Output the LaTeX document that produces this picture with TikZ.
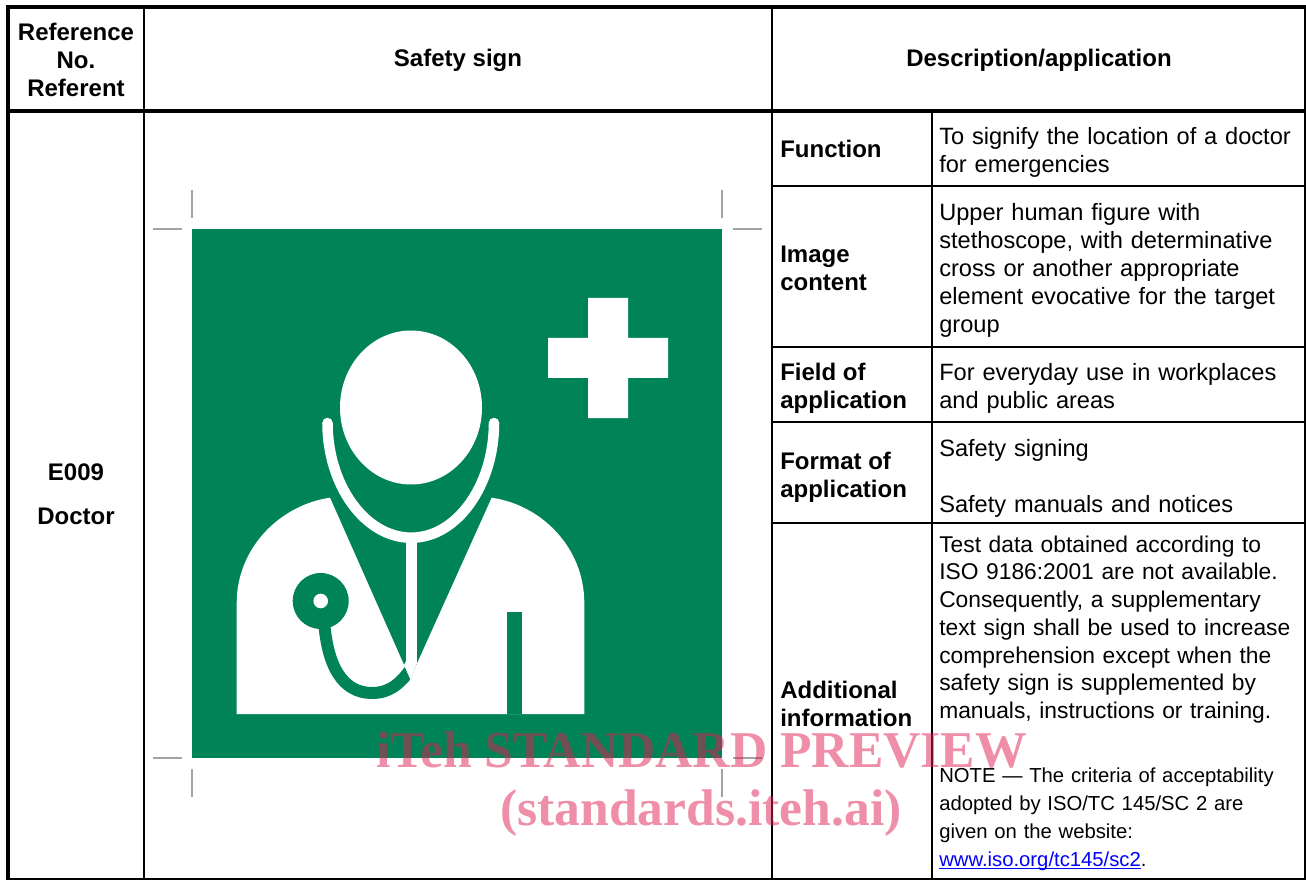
\documentclass[tikz,border=0pt]{standalone}
\usepackage{fontspec}
\setmainfont{Liberation Sans}
\newfontfamily\wmfont{Liberation Serif}
\usepackage{xcolor}
\definecolor{isogreen}{HTML}{008457}
\definecolor{wmpink}{HTML}{E11E54}
\definecolor{crop}{HTML}{A0A4A8}
\definecolor{linkblue}{HTML}{0000FF}
\newcommand\linkline[1]{\setbox0\hbox{#1}\rlap{\rule[-1.9pt]{\wd0}{0.9pt}}\box0}
\tikzset{
  thickrule/.style={line width=3pt,black},
  midrule/.style={line width=1.6pt,black},
  cropmark/.style={line width=1pt,crop},
  head/.style={font=\fontsize{18pt}{21pt}\selectfont\bfseries,align=center,inner sep=0pt},
  lab/.style={font=\fontsize{18pt}{21.2pt}\selectfont\bfseries,align=left,anchor=west,inner sep=0pt},
  body/.style={font=\fontsize{17.7pt}{21pt}\selectfont,align=left,anchor=west,inner sep=0pt,text width=368*0.75pt},
  bodysmall/.style={font=\fontsize{17.1pt}{20.8pt}\selectfont,align=left,anchor=west,inner sep=0pt,text width=368*0.75pt},
  notetext/.style={font=\fontsize{15.2pt}{21pt}\selectfont,align=left,anchor=north west,inner sep=0pt,text width=368*0.75pt},
  wm/.style={font=\wmfont\fontsize{38.7pt}{46pt}\selectfont\bfseries,text=wmpink,opacity=0.5,inner sep=0pt},
  whiteshape/.style={fill=white,draw=none},
  steth/.style={draw=white,line width=7.9pt,line cap=round},
}
\begin{document}
\begin{tikzpicture}[x=0.75pt,y=-0.75pt]
\useasboundingbox (0,0) rectangle (1306,880);
\fill[white] (0,0) rectangle (1306,880);
% sign
\fill[isogreen] (192,229) rectangle (722,758);
\foreach \x in {192,722}{
  \draw[cropmark] (\x,190) -- (\x,218);
  \draw[cropmark] (\x,769) -- (\x,797);
}
\foreach \y in {229,758}{
  \draw[cropmark] (153,\y) -- (182,\y);
  \draw[cropmark] (733,\y) -- (762,\y);
}
% cross
\fill[whiteshape] (588,298) -- (628,298) -- (628,338) -- (668,338) -- (668,378) -- (628,378) -- (628,418) -- (588,418) -- (588,378) -- (548,378) -- (548,338) -- (588,338) -- cycle;
% head
\fill[whiteshape] (411,407.5) ellipse [x radius=71,y radius=77];
% body
\fill[whiteshape] (236.7,714) -- (236.7,603) .. controls (236.7,548) and (280,505) .. (330,497.7)
  -- (410.7,680) -- (415,668) -- (491.7,497.7) .. controls (542,505) and (584.3,548) .. (584.3,603)
  -- (584.3,714) -- cycle;
% pocket
\fill[isogreen] (507.3,612) rectangle (521.7,714);
% chest piece
\fill[isogreen] (320.7,601) circle [radius=28];
\fill[white] (320.7,601) circle [radius=7.3];
\begin{scope}
\clip (200,497.7) -- (330,497.7) -- (423,707.7) -- (200,707.7) -- cycle;
\draw[isogreen,line width=9pt] (324,620) .. controls (327,665) and (342,693) .. (372,693) .. controls (390,693) and (402,683) .. (414,664);
\end{scope}
% stethoscope
\draw[steth,line cap=butt] (411.3,535) -- (411.3,664);
\fill[whiteshape] (404,665) -- (406.5,660) -- (416.2,660) -- (416.7,663) -- (415,668) -- (410.7,680) -- cycle;
\draw[steth] (327.5,423) .. controls (327.5,485) and (365,537.7) .. (411.3,537.7) .. controls (457,537.7) and (494,485) .. (494,423);
% table
\draw[thickrule] (8,7) -- (8,880);
\draw[thickrule] (6,7) -- (1306,7);
\draw[thickrule] (6,110.7) -- (1306,110.7);
\draw[thickrule] (6,879.5) -- (1306,879.5);
\draw[midrule] (1305,7) -- (1305,880);
\draw[midrule] (144,7) -- (144,880);
\draw[midrule] (772,7) -- (772,880);
\draw[midrule] (932,110.7) -- (932,880);
\foreach \y in {186,347,422,523}{
  \draw[midrule] (772,\y) -- (1306,\y);
}
% header
\node[head] (hRef) at (76,60) {Reference\\No.\\Referent};
\node[head] (hSign) at (458,60.5) {Safety sign};
\node[head] (hDesc) at (1039,60.5) {Description/application};
% first column
\node[head] (eNum) at (76,472) {E009};
\node[head] (eName) at (76,516.5) {Doctor};
% labels
\node[lab] (lFunc) at (780,149) {Function};
\node[lab] (lImg) at (780,268.5) {Image\\content};
\node[lab] (lField) at (780,388) {Field of\\application};
\node[lab] (lFmt) at (780,477.5) {Format of\\application};
\node[lab] (lAdd) at (780,704) {Additional\\information};
% descriptions
\node[body] (dFunc) at (939,152.5) {To signify the location of a doctor\\for emergencies};
\node[body] (dImg) at (939,270.5) {Upper human figure with\\stethoscope, with determinative\\cross or another appropriate\\element evocative for the target\\group};
\node[body] (dField) at (939,388.5) {For everyday use in workplaces\\and public areas};
\node[body] (dFmt) at (939,478.5) {Safety signing\\[21pt]Safety manuals and notices};
\node[bodysmall] (dAdd) at (939,629.5) {Test data obtained according to\\ISO 9186:2001 are not available.\\Consequently, a supplementary\\text sign shall be used to increase\\comprehension except when the\\safety sign is supplemented by\\manuals, instructions or training.};
\node[notetext] (dNote) at (939,768) {NOTE — The criteria of acceptability\\adopted by ISO/TC 145/SC 2 are\\given on the website:\\\textcolor{linkblue}{\linkline{www.iso.org/tc145/sc2}}.};
% watermark
\node[wm] (w1) at (701.5,750) {iTeh STANDARD PREVIEW};
\node[wm] (w2) at (701,813.5) {(standards.iteh.ai)};
\end{tikzpicture}
\end{document}
